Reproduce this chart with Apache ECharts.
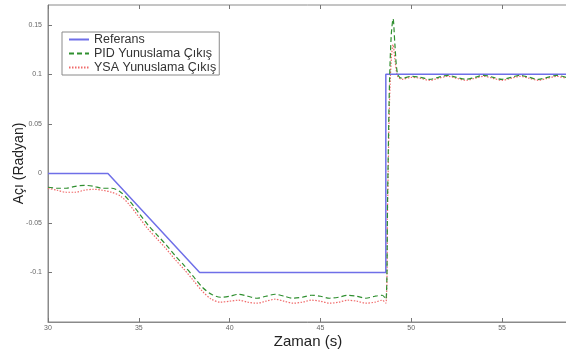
<!DOCTYPE html>
<html>
<head>
<meta charset="utf-8">
<script src="https://cdn.jsdelivr.net/npm/echarts@6/dist/echarts.min.js"></script>
<style>
html,body{margin:0;padding:0;background:#fff;}
#c{width:566px;height:354px;}
</style>
</head>
<body>
<div id="c"></div>
<script>
// Reference signal [time, angle]
const refData = [[30,0],[33.3,0],[38.35,-0.1],[48.6,-0.1],[48.6,0.1],[58.7,0.1]];

// PID pitch output
const pidTime = [30,30.5,31,31.5,32,32.5,33,33.5,34,34.5,35,35.5,36,36.5,37,37.5,38,38.5,39,39.5,40,40.5,41,41.5,42,42.5,43,43.5,44,44.5,45,45.5,46,46.5,47,47.5,48,48.4,48.6,48.7,48.8,48.9,49.0,49.1,49.25,49.5,50,50.5,51,51.5,52,52.5,53,53.5,54,54.5,55,55.5,56,56.5,57,57.5,58,58.7];
const pidVals = [-0.014,-0.015,-0.015,-0.013,-0.012,-0.013,-0.015,-0.015,-0.019,-0.028,-0.040,-0.052,-0.062,-0.072,-0.083,-0.093,-0.104,-0.115,-0.122,-0.125,-0.124,-0.122,-0.124,-0.126,-0.124,-0.122,-0.124,-0.126,-0.125,-0.123,-0.124,-0.126,-0.125,-0.123,-0.124,-0.126,-0.124,-0.123,-0.127,-0.02,0.09,0.14,0.156,0.13,0.10,0.096,0.098,0.097,0.095,0.097,0.099,0.097,0.095,0.097,0.099,0.097,0.095,0.097,0.099,0.097,0.095,0.097,0.099,0.096];

// YSA (ANN) pitch output
const ysaTime = [30,30.5,31,31.5,32,32.5,33,33.5,34,34.5,35,35.5,36,36.5,37,37.5,38,38.5,39,39.5,40,40.5,41,41.5,42,42.5,43,43.5,44,44.5,45,45.5,46,46.5,47,47.5,48,48.4,48.6,48.7,48.8,48.9,49.0,49.1,49.25,49.5,50,50.5,51,51.5,52,52.5,53,53.5,54,54.5,55,55.5,56,56.5,57,57.5,58,58.7];
const ysaVals = [-0.015,-0.017,-0.019,-0.019,-0.017,-0.016,-0.017,-0.019,-0.023,-0.032,-0.044,-0.056,-0.066,-0.076,-0.087,-0.097,-0.108,-0.119,-0.127,-0.130,-0.129,-0.128,-0.130,-0.131,-0.129,-0.127,-0.129,-0.131,-0.130,-0.128,-0.129,-0.131,-0.130,-0.128,-0.129,-0.131,-0.130,-0.128,-0.131,-0.03,0.07,0.115,0.13,0.115,0.098,0.095,0.097,0.096,0.094,0.096,0.098,0.096,0.094,0.096,0.098,0.096,0.094,0.096,0.098,0.096,0.094,0.096,0.098,0.095];

const seriesNames = ['Referans','PID Yunuslama Çıkış','YSA Yunuslama Çıkış'];
const xTitle = 'Zaman (s)';
const yTitle = 'Açı (Radyan)';

const pidData = pidTime.map((t,i)=>[t,pidVals[i]]);
const ysaData = ysaTime.map((t,i)=>[t,ysaVals[i]]);

const chart = echarts.init(document.getElementById('c'), null, {renderer:'canvas'});
const font = 'Liberation Sans, Arial, sans-serif';
const tickLabel = {color:'#666', fontSize:7, fontFamily:font};
chart.setOption({
  animation:false,
  backgroundColor:'#fff',
  grid:{left:48, right:-2, top:5, bottom:32, show:true, borderColor:'#8a8a8a', borderWidth:1,
        containLabel:false, outerBoundsMode:'none'},
  legend:{
    orient:'vertical', left:62, top:32,
    itemWidth:20, itemHeight:10, itemGap:1,
    padding:[1,3,1,6],
    backgroundColor:'#fff', borderColor:'#8a8a8a', borderWidth:1,
    itemStyle:{opacity:0},
    textStyle:{fontSize:12.5, fontFamily:font, color:'#333'},
    data:seriesNames
  },
  xAxis:[{
    type:'value', min:30, max:58.63, interval:5, position:'bottom',
    axisLine:{show:true, onZero:false, lineStyle:{color:'#8a8a8a'}},
    axisTick:{show:true, inside:true, length:4, lineStyle:{color:'#777'}},
    axisLabel:Object.assign({margin:3, showMaxLabel:false}, tickLabel),
    splitLine:{show:false},
    name:xTitle, nameLocation:'middle', nameGap:12, nameMoveOverlap:false,
    nameTextStyle:{fontSize:15, fontFamily:font, color:'#222'}
  },{
    type:'value', min:30, max:58.63, interval:5, position:'top',
    axisLine:{show:false, onZero:false},
    axisTick:{show:true, inside:true, length:4, lineStyle:{color:'#777'}},
    axisLabel:{show:false}, splitLine:{show:false}
  }],
  yAxis:{
    type:'value', min:-0.15, max:0.17, interval:0.05,
    axisLine:{show:true, onZero:false, lineStyle:{color:'#8a8a8a'}},
    axisTick:{show:true, inside:true, length:4, lineStyle:{color:'#777'}},
    axisLabel:Object.assign({margin:6, showMinLabel:false, showMaxLabel:false,
      formatter:v=>String(+v.toFixed(2))}, tickLabel),
    splitLine:{show:false},
    name:yTitle, nameLocation:'middle', nameGap:22, nameRotate:90, nameMoveOverlap:false,
    nameTextStyle:{fontSize:14, fontFamily:font, color:'#222'}
  },
  series:[
    {name:seriesNames[0], type:'line', data:refData, symbol:'none',
     lineStyle:{color:'#6f6fe8', width:1.5}, itemStyle:{color:'#6f6fe8'}, z:3},
    {name:seriesNames[1], type:'line', data:pidData, symbol:'none', smooth:0.3,
     lineStyle:{color:'#2f8f2f', width:1.2, type:[5,3]}, itemStyle:{color:'#2f8f2f'}, z:4},
    {name:seriesNames[2], type:'line', data:ysaData, symbol:'none', smooth:0.3,
     lineStyle:{color:'#f06a6a', width:1.2, type:[1.5,1.5]}, itemStyle:{color:'#f06a6a'}, z:2}
  ]
});
</script>
</body>
</html>
